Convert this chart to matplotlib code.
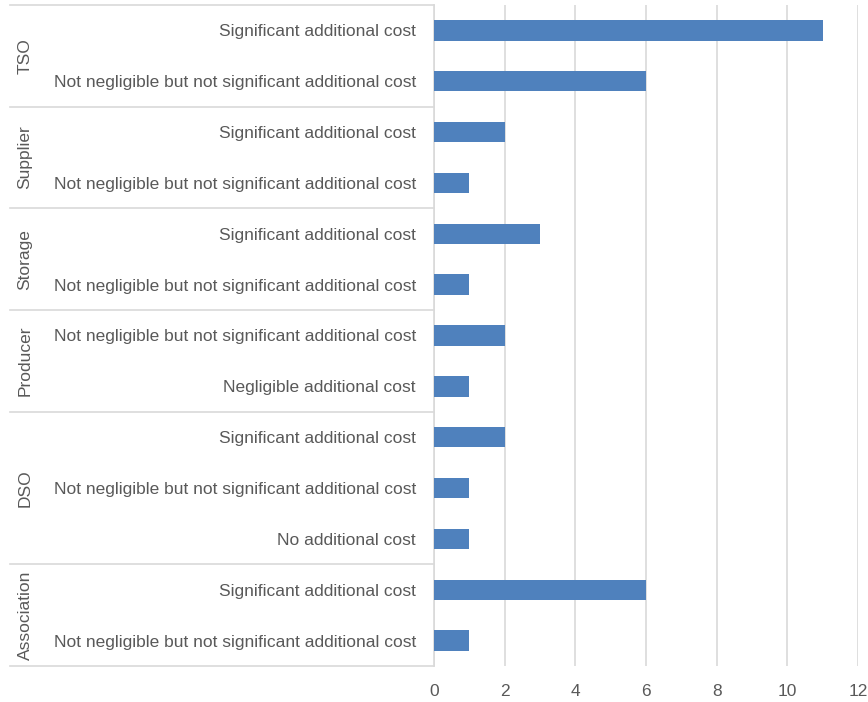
import matplotlib.pyplot as plt
from matplotlib.transforms import blended_transform_factory

# Respondent groups, top to bottom, with the answer categories inside each
groups = ['TSO', 'Supplier', 'Storage', 'Producer', 'DSO', 'Association']
answers = [
    ['Significant additional cost', 'Not negligible but not significant additional cost'],
    ['Significant additional cost', 'Not negligible but not significant additional cost'],
    ['Significant additional cost', 'Not negligible but not significant additional cost'],
    ['Not negligible but not significant additional cost', 'Negligible additional cost'],
    ['Significant additional cost', 'Not negligible but not significant additional cost', 'No additional cost'],
    ['Significant additional cost', 'Not negligible but not significant additional cost'],
]
counts = [
    [11, 6],
    [2, 1],
    [3, 1],
    [2, 1],
    [2, 1, 1],
    [6, 1],
]
xticks = [0, 2, 4, 6, 8, 10, 12]

plt.rcParams['font.family'] = ['Liberation Sans', 'DejaVu Sans']
gris = '#595959'
azul = '#4f81bd'
linea = '#d9d9d9'
tam = 12.5

fig = plt.figure(figsize=(8.68, 7.02), dpi=100)
ax = fig.add_axes([0.5, 0.0513, 0.4885, 0.9416])

etiquetas = [a for grupo in answers for a in grupo]
valores = [v for grupo in counts for v in grupo]
n = len(valores)
posiciones = list(range(n))

ax.barh(posiciones, valores, height=0.4, color=azul, zorder=3)
ax.set_ylim(n - 0.5, -0.5)
ax.set_xlim(0, 12)
ax.set_xticks(xticks)
ax.set_yticks(posiciones)
ax.set_yticklabels(etiquetas)
ax.tick_params(axis='y', length=0, pad=13, labelsize=tam, labelcolor=gris)
ax.tick_params(axis='x', length=0, pad=13, labelsize=tam, labelcolor=gris)
ax.grid(axis='x', color=linea, linewidth=1.2, zorder=0)
for lado in ['top', 'right', 'bottom']:
    ax.spines[lado].set_visible(False)
ax.spines['left'].set_color(linea)
ax.spines['left'].set_linewidth(1.2)

# Separadores de grupo y etiquetas verticales
trans = blended_transform_factory(fig.transFigure, ax.transData)
inicio = -0.5
for grupo, filas in zip(groups, answers):
    fin = inicio + len(filas)
    if inicio == -0.5:
        ax.plot([10 / 868, 0.5], [inicio, inicio], transform=trans, color=linea,
                linewidth=1.2, clip_on=False)
    ax.plot([10 / 868, 0.5], [fin, fin], transform=trans, color=linea,
            linewidth=1.2, clip_on=False)
    ax.text(25 / 868, (inicio + fin) / 2, grupo, transform=trans, rotation=90,
            ha='center', va='center', fontsize=tam, color=gris)
    inicio = fin

fig.savefig('out.png', dpi=100)
